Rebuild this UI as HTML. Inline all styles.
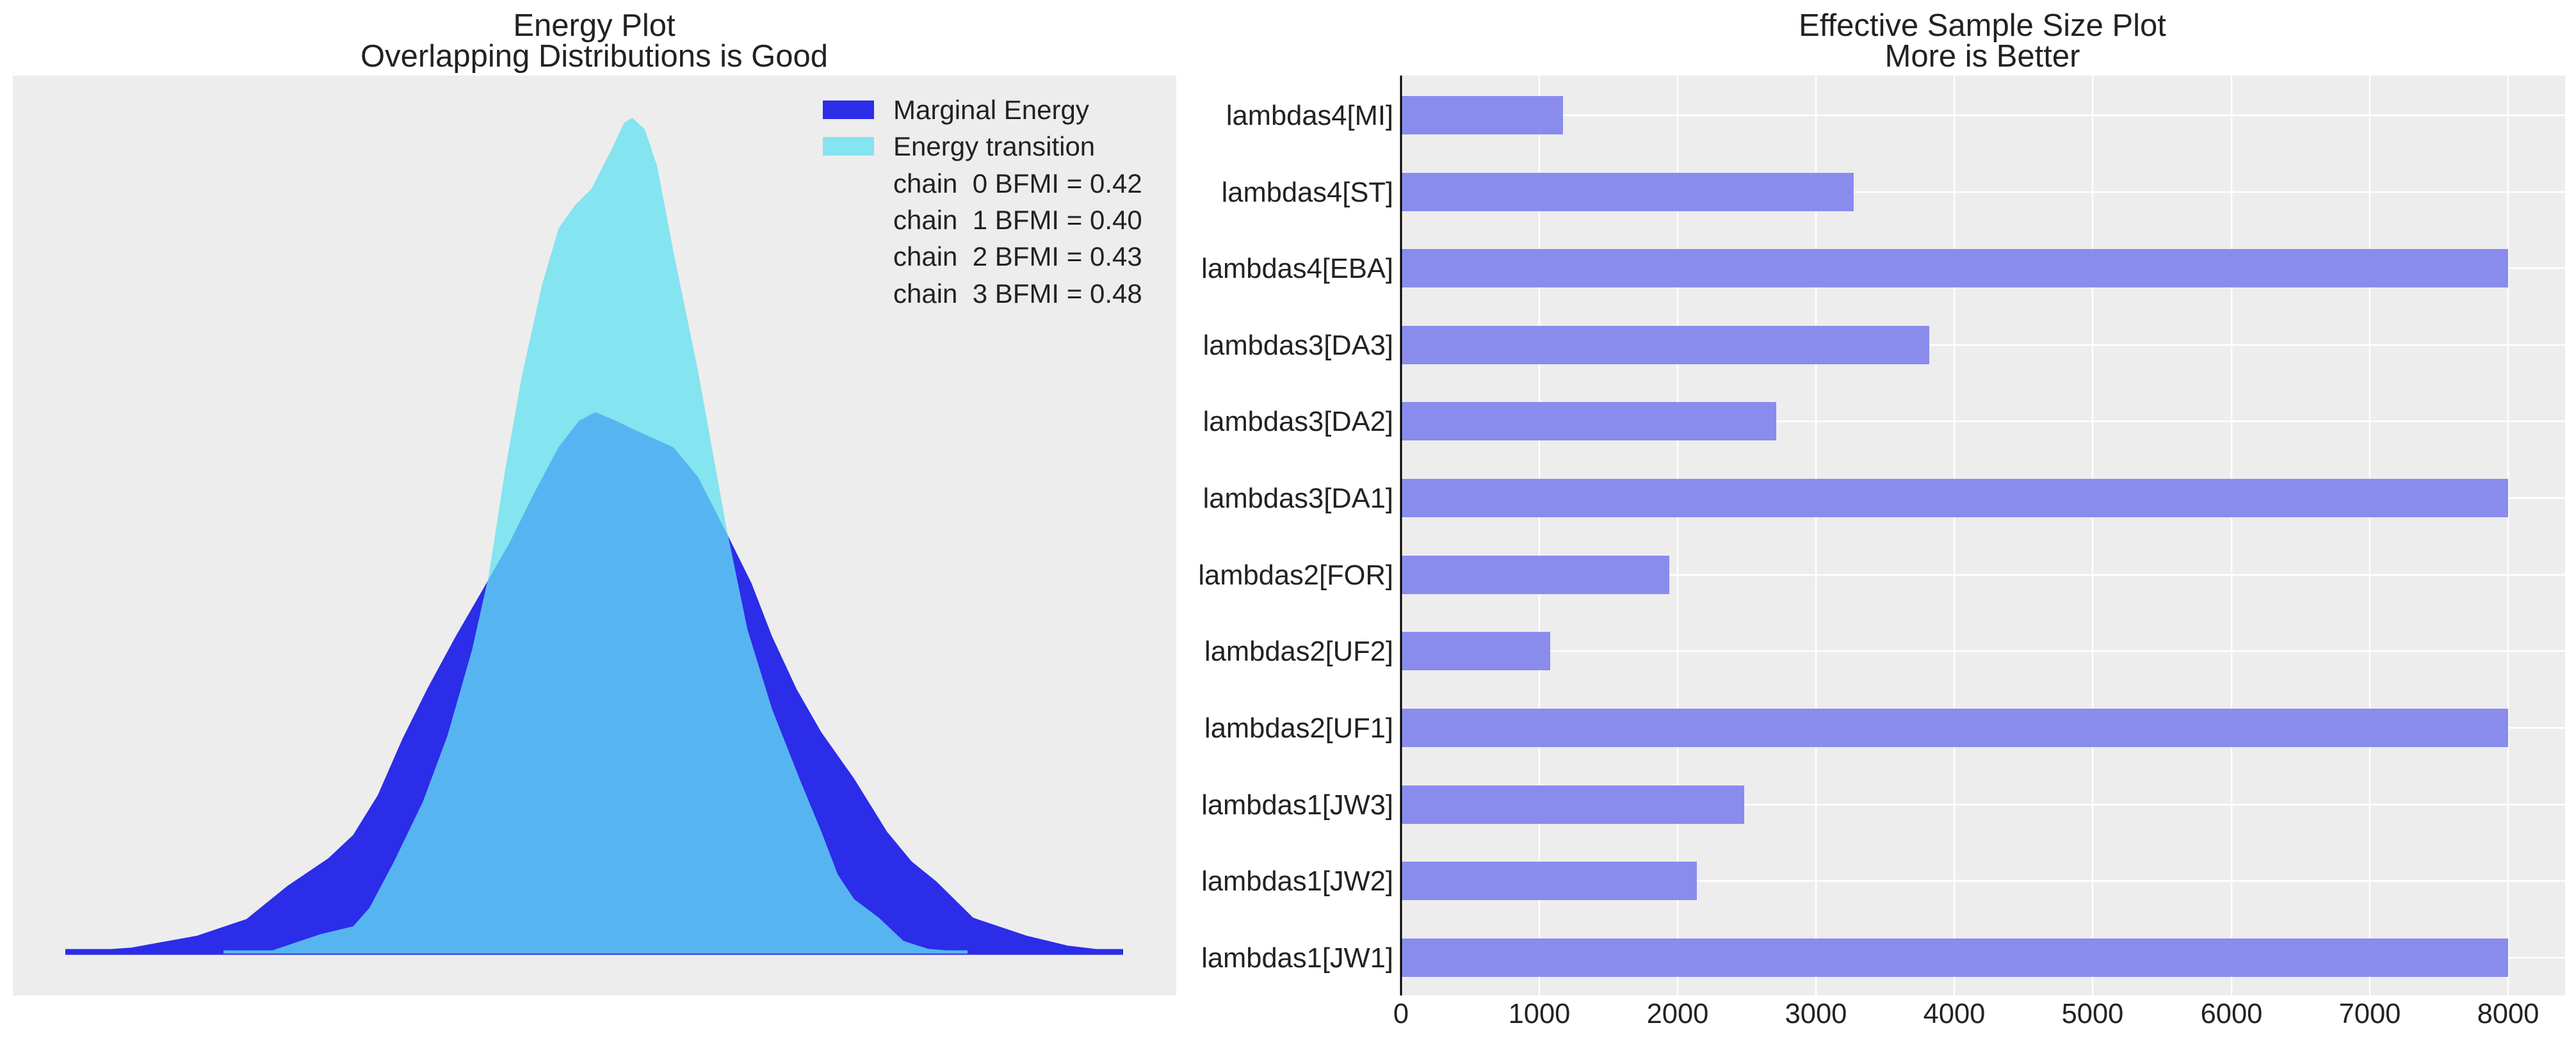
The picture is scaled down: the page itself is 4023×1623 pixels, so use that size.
<!DOCTYPE html>
<html><head><meta charset="utf-8"><style>
html,body{margin:0;padding:0;background:#fff;}
svg{display:block;font-family:"Liberation Sans","DejaVu Sans",sans-serif;}
</style></head><body>
<svg width="4023" height="1623" viewBox="0 0 4023 1623" xmlns="http://www.w3.org/2000/svg">
<defs>
<clipPath id="mc"><polygon points="102.6,1487.4 205.2,1480.2 307.8,1461.6 384.8,1435.7 448.9,1383.9 513,1340.5 551.5,1304.2 590,1242.1 628.5,1154.1 667,1076.5 711.8,993.7 756.7,916.1 795.2,848.8 833.7,771.1 872.2,698.7 904.2,657.3 929.9,643.8 961.9,657.3 994,672.8 1051.7,698.7 1090.2,745.3 1135.1,833.3 1173.6,910.9 1205.6,993.7 1244.1,1076.5 1282.6,1143.8 1333.9,1216.2 1385.2,1299.1 1423.7,1345.6 1462.2,1376.7 1519.9,1433.6 1603.3,1461.6 1667.4,1477.1 1753.3,1487.4"/></clipPath>
</defs>
<rect x="20" y="118" width="1817" height="1437" fill="#ededed"/>
<g font-size="49" fill="#222" text-anchor="middle">
<text x="928" y="56">Energy Plot</text>
<text x="928" y="104">Overlapping Distributions is Good</text>
<text x="3096" y="56">Effective Sample Size Plot</text>
<text x="3096" y="104">More is Better</text>
</g>
<polygon fill="#2b2de8" points="102.6,1487.4 205.2,1480.2 307.8,1461.6 384.8,1435.7 448.9,1383.9 513,1340.5 551.5,1304.2 590,1242.1 628.5,1154.1 667,1076.5 711.8,993.7 756.7,916.1 795.2,848.8 833.7,771.1 872.2,698.7 904.2,657.3 929.9,643.8 961.9,657.3 994,672.8 1051.7,698.7 1090.2,745.3 1135.1,833.3 1173.6,910.9 1205.6,993.7 1244.1,1076.5 1282.6,1143.8 1333.9,1216.2 1385.2,1299.1 1423.7,1345.6 1462.2,1376.7 1519.9,1433.6 1603.3,1461.6 1667.4,1477.1 1753.3,1487.4"/>
<line x1="102" y1="1487" x2="1754" y2="1487" stroke="#2b2de8" stroke-width="9"/>
<polygon fill="#84e4ef" points="348.9,1487.4 423.3,1485.4 500.2,1459.5 551.5,1447.1 577.2,1418.1 615.6,1345.6 660.5,1252.5 699,1149 737.5,1014.4 763.1,900.5 788.8,734.9 814.5,590 846.5,445.1 872.2,357.1 897.8,320.9 923.5,295 955.5,232.9 974.8,191.5 987.6,184.2 1006.8,201.8 1026.1,258.8 1051.7,393.3 1090.2,579.7 1135.1,828.1 1167.2,983.3 1205.6,1107.6 1250.5,1221.4 1282.6,1299.1 1308.3,1366.3 1333.9,1404.7 1372.4,1433.6 1410.9,1469.9 1449.3,1482.3 1510.9,1487.4"/>
<g clip-path="url(#mc)">
<polygon fill="#56b5f1" points="348.9,1487.4 423.3,1485.4 500.2,1459.5 551.5,1447.1 577.2,1418.1 615.6,1345.6 660.5,1252.5 699,1149 737.5,1014.4 763.1,900.5 788.8,734.9 814.5,590 846.5,445.1 872.2,357.1 897.8,320.9 923.5,295 955.5,232.9 974.8,191.5 987.6,184.2 1006.8,201.8 1026.1,258.8 1051.7,393.3 1090.2,579.7 1135.1,828.1 1167.2,983.3 1205.6,1107.6 1250.5,1221.4 1282.6,1299.1 1308.3,1366.3 1333.9,1404.7 1372.4,1433.6 1410.9,1469.9 1449.3,1482.3 1510.9,1487.4"/>
</g>
<line x1="349" y1="1487" x2="1511" y2="1487" stroke="#56b5f1" stroke-width="5"/>
<rect x="1285" y="157" width="80" height="29" fill="#2b2de8"/>
<rect x="1285" y="214" width="80" height="29" fill="#84e4ef"/>
<g font-size="42" fill="#222">
<text x="1395" y="186">Marginal Energy</text>
<text x="1395" y="243">Energy transition</text>
<text x="1395" y="301">chain&#160;&#160;0 BFMI = 0.42</text>
<text x="1395" y="358">chain&#160;&#160;1 BFMI = 0.40</text>
<text x="1395" y="415">chain&#160;&#160;2 BFMI = 0.43</text>
<text x="1395" y="473">chain&#160;&#160;3 BFMI = 0.48</text>
</g>
<rect x="2188" y="118" width="1818" height="1437" fill="#ededed"/>
<g stroke="#fff" stroke-width="2.5">
<line x1="2404" y1="118" x2="2404" y2="1555"/><line x1="2620" y1="118" x2="2620" y2="1555"/>
<line x1="2836" y1="118" x2="2836" y2="1555"/><line x1="3052" y1="118" x2="3052" y2="1555"/>
<line x1="3268" y1="118" x2="3268" y2="1555"/><line x1="3485" y1="118" x2="3485" y2="1555"/>
<line x1="3701" y1="118" x2="3701" y2="1555"/><line x1="3917" y1="118" x2="3917" y2="1555"/>
<line x1="2188" y1="180" x2="4006" y2="180"/><line x1="2188" y1="300" x2="4006" y2="300"/>
<line x1="2188" y1="419" x2="4006" y2="419"/><line x1="2188" y1="539" x2="4006" y2="539"/>
<line x1="2188" y1="658" x2="4006" y2="658"/><line x1="2188" y1="778" x2="4006" y2="778"/>
<line x1="2188" y1="898" x2="4006" y2="898"/><line x1="2188" y1="1017" x2="4006" y2="1017"/>
<line x1="2188" y1="1137" x2="4006" y2="1137"/><line x1="2188" y1="1257" x2="4006" y2="1257"/>
<line x1="2188" y1="1376" x2="4006" y2="1376"/><line x1="2188" y1="1496" x2="4006" y2="1496"/>
</g>
<g fill="#8a8ced">
<rect x="2188" y="150" width="253" height="60"/>
<rect x="2188" y="270" width="707" height="60"/>
<rect x="2188" y="389" width="1729" height="60"/>
<rect x="2188" y="509" width="825" height="60"/>
<rect x="2188" y="628" width="586" height="60"/>
<rect x="2188" y="748" width="1729" height="60"/>
<rect x="2188" y="868" width="419" height="60"/>
<rect x="2188" y="987" width="233" height="60"/>
<rect x="2188" y="1107" width="1729" height="60"/>
<rect x="2188" y="1227" width="536" height="60"/>
<rect x="2188" y="1346" width="462" height="60"/>
<rect x="2188" y="1466" width="1729" height="60"/>
</g>
<line x1="2188" y1="118" x2="2188" y2="1555" stroke="#000" stroke-width="3"/>
<g font-size="43.5" fill="#222" text-anchor="end">
<text x="2176" y="195">lambdas4[MI]</text>
<text x="2176" y="315">lambdas4[ST]</text>
<text x="2176" y="434">lambdas4[EBA]</text>
<text x="2176" y="554">lambdas3[DA3]</text>
<text x="2176" y="673">lambdas3[DA2]</text>
<text x="2176" y="793">lambdas3[DA1]</text>
<text x="2176" y="913">lambdas2[FOR]</text>
<text x="2176" y="1032">lambdas2[UF2]</text>
<text x="2176" y="1152">lambdas2[UF1]</text>
<text x="2176" y="1272">lambdas1[JW3]</text>
<text x="2176" y="1391">lambdas1[JW2]</text>
<text x="2176" y="1511">lambdas1[JW1]</text>
</g>
<g font-size="43.5" fill="#222" text-anchor="middle">
<text x="2188" y="1598">0</text><text x="2404" y="1598">1000</text>
<text x="2620" y="1598">2000</text><text x="2836" y="1598">3000</text>
<text x="3052" y="1598">4000</text><text x="3268" y="1598">5000</text>
<text x="3485" y="1598">6000</text><text x="3701" y="1598">7000</text>
<text x="3917" y="1598">8000</text>
</g>
</svg>
</body></html>
